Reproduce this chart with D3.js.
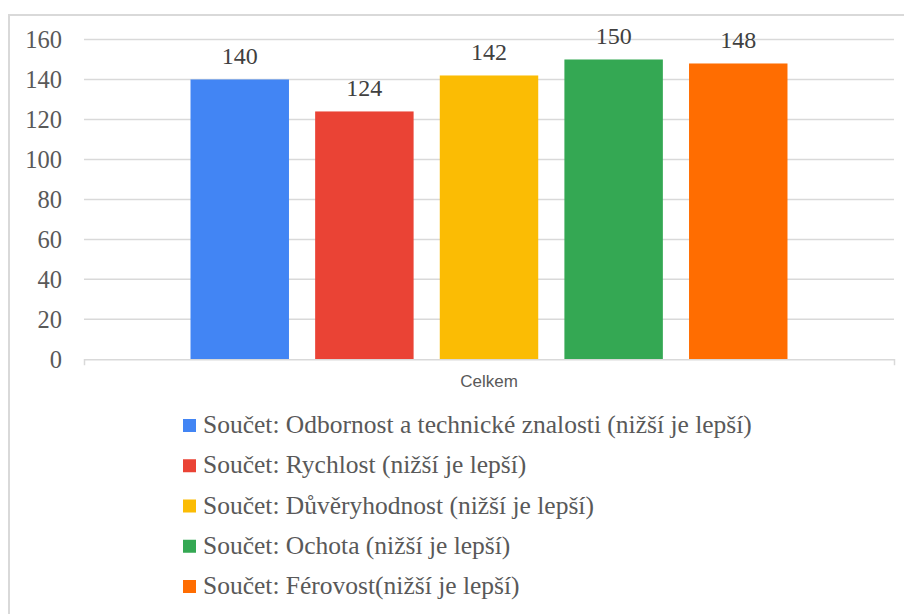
<!DOCTYPE html>
<html>
<head>
<meta charset="utf-8">
<script src="https://cdn.jsdelivr.net/npm/d3@7/dist/d3.min.js"></script>
</head>
<body style="margin:0">
<svg id="fig" width="904" height="614"></svg>
<script>
// Category, series and values
const categories = ["Celkem"];
const seriesNames = [
  "Součet: Odbornost a technické znalosti (nižší je lepší)",
  "Součet: Rychlost (nižší je lepší)",
  "Součet: Důvěryhodnost (nižší je lepší)",
  "Součet: Ochota (nižší je lepší)",
  "Součet: Férovost(nižší je lepší)"
];
const seriesValues = [140, 124, 142, 150, 148];
const seriesColors = ["#4285f4", "#ea4335", "#fbbc04", "#34a853", "#ff6d01"];
const yTicks = [0, 20, 40, 60, 80, 100, 120, 140, 160];

const svg = d3.select("#fig");
const textColor = "#595959";
const gridColor = "#d9d9d9";
const serifFace = '"Liberation Serif"';
const sansFace = '"Liberation Sans"';

// Outer frame (right/bottom edges sit outside the visible area)
svg.append("rect")
  .attr("x", 9).attr("y", 15)
  .attr("width", 1000).attr("height", 1000)
  .attr("fill", "none")
  .attr("stroke", gridColor)
  .attr("stroke-width", 2);

const plot = { left: 84, right: 894, top: 39.5, bottom: 359.3 };

const y = d3.scaleLinear().domain([0, 160]).range([plot.bottom, plot.top]);
const x0 = d3.scaleBand().domain(categories).range([plot.left, plot.right]).padding(0);
const groupInset = x0.bandwidth() * 0.1315;
const x1 = d3.scaleBand().domain(seriesNames)
  .range([groupInset, x0.bandwidth() - groupInset])
  .paddingInner(0.21).paddingOuter(0);

// Horizontal gridlines with value labels
const gy = svg.append("g").attr("transform", `translate(${plot.left},0)`);
gy.selectAll("line")
  .data(yTicks.filter(d => d > 0)).join("line")
  .attr("x1", 0).attr("x2", plot.right - plot.left)
  .attr("y1", d => y(d)).attr("y2", d => y(d))
  .attr("stroke", gridColor).attr("stroke-width", 1.5);
gy.selectAll("text")
  .data(yTicks).join("text")
  .attr("x", -22).attr("y", d => y(d))
  .attr("dy", "0.34em")
  .attr("text-anchor", "end")
  .attr("fill", textColor)
  .style("font-family", serifFace)
  .style("font-size", "24.5px")
  .text(d => d);

// Bars
const groups = svg.append("g").selectAll("g")
  .data(categories).join("g")
  .attr("transform", d => `translate(${x0(d)},0)`);

groups.selectAll("rect")
  .data(() => seriesNames.map((name, i) => ({ name, value: seriesValues[i], color: seriesColors[i] })))
  .join("rect")
  .attr("x", d => x1(d.name))
  .attr("y", d => y(d.value))
  .attr("width", x1.bandwidth())
  .attr("height", d => y(0) - y(d.value))
  .attr("fill", d => d.color);

// Value labels above bars
groups.selectAll("text.val")
  .data(() => seriesNames.map((name, i) => ({ name, value: seriesValues[i] })))
  .join("text")
  .attr("class", "val")
  .attr("x", d => x1(d.name) + x1.bandwidth() / 2)
  .attr("y", d => y(d.value) - 15)
  .attr("text-anchor", "middle")
  .attr("fill", "#404040")
  .style("font-family", serifFace)
  .style("font-size", "24px")
  .text(d => d.value);

// Category axis
const xAxis = d3.axisBottom(x0).tickSizeInner(0).tickSizeOuter(6).tickPadding(16);
const gx = svg.append("g").attr("transform", `translate(0,${plot.bottom})`).call(xAxis);
gx.attr("font-family", null).attr("font-size", null);
gx.select(".domain").attr("stroke", gridColor).attr("stroke-width", 1.5);
gx.selectAll(".tick text")
  .attr("fill", textColor)
  .style("font-family", sansFace)
  .style("font-size", "17px");

// Legend
const legend = svg.append("g").attr("transform", "translate(183,0)");
const rowY = d3.scalePoint().domain(seriesNames).range([433, 594]);
const items = legend.selectAll("g").data(seriesNames).join("g")
  .attr("transform", d => `translate(0,${rowY(d)})`);
items.append("rect")
  .attr("x", 0).attr("y", -14)
  .attr("width", 13).attr("height", 13)
  .attr("fill", (d, i) => seriesColors[i]);
items.append("text")
  .attr("x", 20).attr("y", 0)
  .attr("fill", textColor)
  .style("font-family", serifFace)
  .style("font-size", "25.5px")
  .text(d => d);
</script>
</body>
</html>
